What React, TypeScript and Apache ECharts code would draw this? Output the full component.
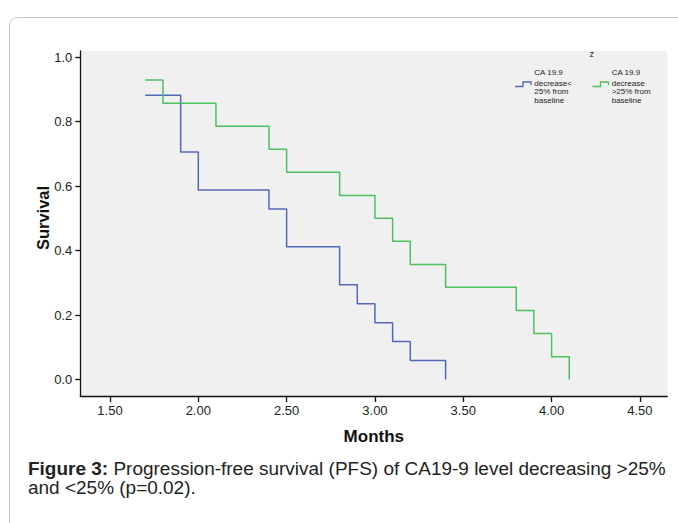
import React, { useEffect, useRef } from "react";
import * as echarts from "echarts";

// Tick labels
const xTicks = [1.5, 2.0, 2.5, 3.0, 3.5, 4.0, 4.5];
const yTicks = [0, 0.2, 0.4, 0.6, 0.8, 1.0];

// CA 19.9 decrease < 25% from baseline (blue)
const blueTimes = [1.7, 1.9, 2.0, 2.4, 2.5, 2.8, 2.9, 3.0, 3.1, 3.2, 3.4];
const blueSurvival = [0.882, 0.706, 0.588, 0.529, 0.412, 0.294, 0.235, 0.176, 0.118, 0.059, 0];

// CA 19.9 decrease > 25% from baseline (green)
const greenTimes = [1.7, 1.8, 2.1, 2.4, 2.5, 2.8, 3.0, 3.1, 3.2, 3.4, 3.8, 3.9, 4.0, 4.1];
const greenSurvival = [0.929, 0.857, 0.786, 0.714, 0.643, 0.571, 0.5, 0.429, 0.357, 0.286, 0.214, 0.143, 0.071, 0];

const legendTitle = "z";
const blueLabel = ["CA 19.9", "decrease<", "25% from", "baseline"];
const greenLabel = ["CA 19.9", "decrease", ">25% from", "baseline"];
const captionBold = "Figure 3:";
const captionRest1 = " Progression-free survival (PFS) of CA19-9 level decreasing >25%";
const captionLine2 = "and <25% (p=0.02).";

const BLUE = "#5268b8";
const GREEN = "#4cc05c";
const FONT = "'Liberation Sans', Arial, sans-serif";

export default function App() {
  const ref = useRef<HTMLDivElement>(null);
  useEffect(() => {
    if (!ref.current) return;
    const chart = echarts.init(ref.current, null, { renderer: "svg" });

    const legendText = (lines: string[], x: number) =>
      lines.map((t, i) => ({
        type: "text",
        x,
        y: [72.5, 83, 91.5, 100][i],
        style: { text: t, fontSize: 8, fontFamily: FONT, fill: "#222", verticalAlign: "middle" },
      }));
    const legendIcon = (x: number, color: string) => ({
      type: "polyline",
      shape: { points: [[x, 86.5], [x + 8, 86.5], [x + 8, 82], [x + 16, 82], [x + 16, 85]] },
      style: { stroke: color, lineWidth: 1.3, fill: "none" },
    });

    chart.setOption({
      animation: false,
      backgroundColor: "#ffffff",
      textStyle: { fontFamily: FONT },
      grid: {
        left: 80.3,
        top: 51,
        right: 10.7,
        bottom: 127,
        show: true,
        backgroundColor: "#f0f0f0",
        borderWidth: 0,
      },
      xAxis: {
        type: "value",
        min: 1.332,
        max: 4.655,
        name: "Months",
        nameLocation: "middle",
        nameGap: 32,
        nameTextStyle: { fontSize: 17, fontWeight: "bold", color: "#111", fontFamily: FONT },
        axisLine: { show: true, onZero: false, lineStyle: { color: "#111", width: 1.3 } },
        axisTick: { show: true, length: 6, customValues: xTicks, lineStyle: { color: "#111", width: 1.3 } },
        axisLabel: {
          customValues: xTicks,
          formatter: (v: number) => v.toFixed(2),
          fontSize: 13,
          color: "#222",
          margin: 8,
          fontFamily: FONT,
        },
        splitLine: { show: false },
      },
      yAxis: {
        type: "value",
        min: -0.051,
        max: 1.019,
        axisLine: { show: true, onZero: false, lineStyle: { color: "#111", width: 1.3 } },
        axisTick: { show: true, length: 5, customValues: yTicks, lineStyle: { color: "#111", width: 1.3 } },
        axisLabel: {
          customValues: yTicks,
          formatter: (v: number) => v.toFixed(1),
          fontSize: 13,
          color: "#222",
          margin: 8,
          fontFamily: FONT,
        },
        splitLine: { show: false },
      },
      series: [
        {
          type: "line",
          step: "end",
          showSymbol: false,
          data: blueTimes.map((t, i) => [t, blueSurvival[i]]),
          lineStyle: { color: BLUE, width: 1.5 },
          itemStyle: { color: BLUE },
        },
        {
          type: "line",
          step: "end",
          showSymbol: false,
          data: greenTimes.map((t, i) => [t, greenSurvival[i]]),
          lineStyle: { color: GREEN, width: 1.5 },
          itemStyle: { color: GREEN },
        },
      ],
      graphic: [
        {
          type: "rect",
          z: -10,
          shape: { x: 9.5, y: 17.5, width: 720, height: 560, r: 8 },
          style: { fill: "none", stroke: "#c9c9c9", lineWidth: 1 },
        },
        {
          type: "text",
          x: 43,
          y: 218,
          rotation: Math.PI / 2,
          style: {
            text: "Survival",
            fontSize: 16.5,
            fontWeight: "bold",
            fontFamily: FONT,
            fill: "#111",
            align: "center",
            verticalAlign: "middle",
          },
        },
        {
          type: "text",
          x: 591.7,
          y: 54,
          style: { text: legendTitle, fontSize: 9, fontFamily: FONT, fill: "#222", align: "center", verticalAlign: "middle" },
        },
        legendIcon(515, BLUE),
        legendIcon(592.5, GREEN),
        ...legendText(blueLabel, 534.3),
        ...legendText(greenLabel, 611.7),
        {
          type: "text",
          x: 28,
          y: 459,
          scaleX: 1.085,
          style: {
            text: "{b|" + captionBold + "}" + captionRest1 + "\n" + captionLine2,
            fontSize: 17.5,
            lineHeight: 19,
            fontFamily: FONT,
            fill: "#222",
            rich: {
              b: {
                fontWeight: "bold",
                fontSize: 17.5,
                lineHeight: 19,
                fontFamily: FONT,
                fill: "#222",
              },
            },
          },
        },
      ],
    });
    return () => chart.dispose();
  }, []);
  return <div ref={ref} style={{ position: "fixed", left: 0, top: 0, width: 678, height: 523 }} />;
}
